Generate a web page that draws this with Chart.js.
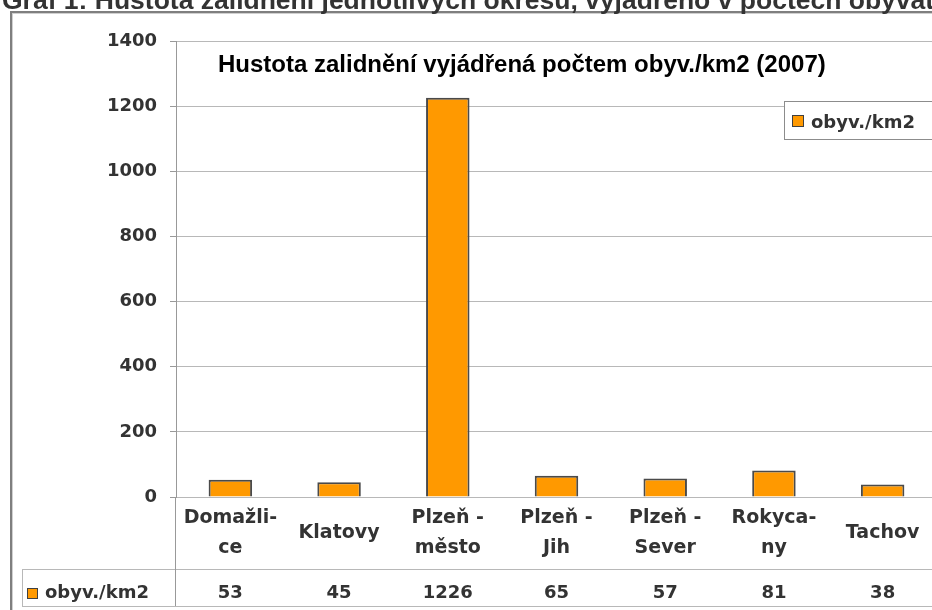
<!DOCTYPE html>
<html>
<head>
<meta charset="utf-8">
<script src="https://cdn.jsdelivr.net/npm/chart.js@4.4.0/dist/chart.umd.min.js"></script>
<style>
    html, body { margin: 0; padding: 0; background: #fff; }
    #wrap { width: 932px; height: 610px; overflow: hidden; position: relative; }
    canvas { display: block; }
</style>
</head>
<body>
<div id="wrap"><canvas id="graf" width="945" height="610"></canvas></div>
<script>
'use strict';

// data
const headerText = 'Graf 1: Hustota zalidnění jednotlivých okresů, vyjádřeno v počtech obyvatel na km2';
const chartTitle = 'Hustota zalidnění vyjádřená počtem obyv./km2 (2007)';
const seriesName = 'obyv./km2';
const districts = ['Domažlice', 'Klatovy', 'Plzeň - město', 'Plzeň - Jih', 'Plzeň - Sever', 'Rokycany', 'Tachov'];
const districtLines = [['Domažli-', 'ce'], ['Klatovy'], ['Plzeň -', 'město'], ['Plzeň -', 'Jih'], ['Plzeň -', 'Sever'], ['Rokyca-', 'ny'], ['Tachov']];
const density = [53, 45, 1226, 65, 57, 81, 38];
const yMin = 0;
const yMax = 1400;
const yStep = 200;

const ORANGE = '#ff9900';
const TEXT = '#333333';
const GRID = '#b8b8b8';
const FONT = '"DejaVu Sans", Verdana, sans-serif';

// ramecek, titulek, legenda a tabulka pod grafem
const extras = {
    id: 'extras',
    beforeDraw(chart) {
        const ctx = chart.ctx;
        ctx.save();
        // vnejsi ramecek
        ctx.fillStyle = '#7f7f7f';
        ctx.fillRect(10, 11, chart.width, 2);
        ctx.fillRect(10, 11, 2, chart.height);
        ctx.fillStyle = '#d0d0d0';
        ctx.fillRect(12, 13, chart.width, 1);
        ctx.fillRect(12, 13, 1, chart.height);
        ctx.restore();
    },
    afterDraw(chart) {
        const ctx = chart.ctx;
        const area = chart.chartArea;
        const x = chart.scales.x;
        ctx.save();

        // nadpis nad grafem (oriznuty nahore)
        ctx.fillStyle = TEXT;
        ctx.font = 'bold 26.5px "Liberation Sans", Arial, sans-serif';
        ctx.textAlign = 'left';
        ctx.textBaseline = 'alphabetic';
        ctx.fillText(headerText, 2, 9);

        // titulek grafu
        ctx.fillStyle = '#000';
        ctx.font = 'bold 24px "Liberation Sans", Arial, sans-serif';
        ctx.fillText(chartTitle, 218, 72);

        // legenda
        ctx.fillStyle = '#fff';
        ctx.fillRect(784, 101, 170, 38);
        ctx.strokeStyle = '#8c8c8c';
        ctx.lineWidth = 1;
        ctx.strokeRect(784.5, 101.5, 170, 38);
        ctx.fillStyle = ORANGE;
        ctx.fillRect(792, 115, 12, 12);
        ctx.strokeStyle = '#404040';
        ctx.strokeRect(792.5, 115.5, 11, 11);
        ctx.fillStyle = TEXT;
        ctx.font = 'bold 18px ' + FONT;
        ctx.fillText(seriesName, 811, 128);

        // tabulka
        const rowTop = area.bottom + 72;
        const rowBottom = rowTop + 37;
        ctx.fillStyle = GRID;
        ctx.fillRect(22, rowTop, chart.width, 1);
        ctx.fillRect(22, rowBottom, chart.width, 1);
        ctx.fillRect(22, rowTop, 1, rowBottom - rowTop);
        ctx.fillStyle = '#999';
        ctx.fillRect(area.left - 1, area.bottom, 1, rowBottom - area.bottom);

        // popisky okresu
        ctx.fillStyle = TEXT;
        ctx.font = 'bold 19px ' + FONT;
        ctx.textAlign = 'center';
        districtLines.forEach((lines, i) => {
            const cx = x.getPixelForValue(i);
            if (lines.length === 1) {
                ctx.fillText(lines[0], cx, area.bottom + 41);
            } else {
                ctx.fillText(lines[0], cx, area.bottom + 26);
                ctx.fillText(lines[1], cx, area.bottom + 56);
            }
        });

        // hodnoty
        ctx.font = 'bold 18px ' + FONT;
        density.forEach((v, i) => {
            ctx.fillText(String(v), x.getPixelForValue(i), rowTop + 29);
        });

        // legenda v tabulce
        ctx.textAlign = 'left';
        ctx.fillStyle = ORANGE;
        ctx.fillRect(27, rowTop + 19, 11, 11);
        ctx.strokeStyle = '#404040';
        ctx.strokeRect(27.5, rowTop + 19.5, 10, 10);
        ctx.fillStyle = TEXT;
        ctx.fillText(seriesName, 45, rowTop + 29);

        ctx.restore();
    }
};

const config = {
    type: 'bar',
    data: {
        labels: districts,
        datasets: [
            {
                label: seriesName,
                data: density,
                backgroundColor: ORANGE,
                borderColor: '#4a4a4a',
                borderWidth: 2,
                categoryPercentage: 1,
                barPercentage: 0.4
            }
        ]
    },
    options: {
        responsive: false,
        animation: false,
        layout: {
            padding: { top: 41, right: 8, bottom: 113, left: 0 }
        },
        plugins: {
            legend: { display: false },
            title: { display: false },
            tooltip: { enabled: false }
        },
        scales: {
            x: {
                display: false
            },
            y: {
                min: yMin,
                max: yMax,
                afterFit: scale => { scale.width = 176; },
                ticks: {
                    stepSize: yStep,
                    padding: 13,
                    color: TEXT,
                    font: { family: FONT, size: 18, weight: 'bold' },
                    callback: value => String(value)
                },
                grid: {
                    color: GRID,
                    tickLength: 6,
                    tickColor: '#999'
                },
                border: { color: '#999' }
            }
        }
    },
    plugins: [extras]
};

const chart = new Chart(document.getElementById('graf'), config);
</script>
</body>
</html>
